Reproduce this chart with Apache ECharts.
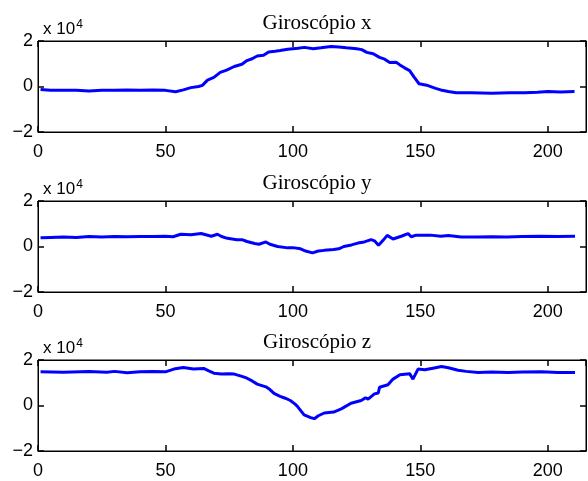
<!DOCTYPE html>
<html>
<head>
<meta charset="utf-8">
<script src="https://cdn.jsdelivr.net/npm/echarts@6/dist/echarts.min.js"></script>
<style>
  html, body { margin: 0; padding: 0; background: #fff; }
  #chart { width: 588px; height: 481px; }
</style>
</head>
<body>
<div id="chart"></div>
<script>
// valores em unidades de 10^4, [amostra, valor]
var giroX = [
  [1,-0.13],[5,-0.17],[10,-0.16],[15,-0.16],[20,-0.2],[25,-0.16],[30,-0.17],[35,-0.15],
  [40,-0.17],[45,-0.15],[50,-0.17],[54,-0.23],[57,-0.15],[60,-0.05],[63,0.0],[64.5,0.05],
  [66.5,0.28],[69,0.4],[71.5,0.62],[74,0.72],[77,0.88],[80,0.98],[82,1.14],[84,1.22],
  [86,1.34],[88.5,1.37],[90.5,1.52],[93,1.55],[95,1.58],[98,1.64],[102,1.68],[104.5,1.72],
  [108,1.66],[111,1.7],[115,1.76],[118,1.74],[121,1.7],[125,1.66],[127,1.62],[129,1.5],
  [131.5,1.44],[134,1.28],[136,1.2],[138,1.05],[140.5,1.07],[142,0.95],[143.8,0.82],
  [145.8,0.7],[147.5,0.42],[149.5,0.12],[153,0.04],[156,-0.08],[158,-0.15],[161,-0.22],
  [164,-0.27],[170,-0.28],[178,-0.3],[185,-0.27],[191,-0.28],[196,-0.25],[200,-0.22],
  [205,-0.24],[210.5,-0.22]
];
var giroY = [
  [1,0.38],[5,0.4],[10,0.42],[15,0.4],[20,0.44],[25,0.42],[30,0.44],[35,0.43],[40,0.44],
  [45,0.44],[50,0.45],[53,0.43],[56,0.54],[60,0.52],[64,0.57],[68,0.45],[70.4,0.54],
  [72,0.44],[74.3,0.36],[78,0.3],[80,0.3],[82,0.22],[85,0.13],[86.7,0.1],[89.4,0.2],
  [91,0.1],[94,0.0],[98,-0.06],[100,-0.05],[103,-0.1],[105,-0.2],[107.7,-0.28],[110,-0.2],
  [112.3,-0.17],[116,-0.13],[118,-0.1],[120,0.0],[123,0.07],[125.5,0.15],[128,0.2],
  [130.7,0.3],[132,0.25],[133.6,0.05],[135.3,0.26],[137,0.49],[139.3,0.33],[142.5,0.45],
  [145.2,0.57],[146.4,0.43],[148.4,0.5],[154,0.5],[158,0.45],[161,0.48],[166,0.42],
  [172,0.42],[178,0.43],[184,0.42],[190,0.44],[197,0.45],[204,0.44],[210.7,0.45]
];
var giroZ = [
  [1,1.48],[10,1.46],[20,1.49],[27,1.46],[30,1.5],[35,1.44],[40,1.48],[45,1.49],[50,1.48],
  [53.3,1.6],[57,1.67],[61,1.6],[65,1.63],[67,1.52],[69,1.42],[72,1.38],[75,1.4],[77,1.38],
  [80,1.28],[82,1.2],[84,1.08],[86,0.94],[89.4,0.82],[91,0.7],[92.6,0.53],[95,0.4],
  [97,0.32],[99,0.22],[101,0.05],[102,-0.07],[104.4,-0.41],[107,-0.53],[108.4,-0.58],
  [110,-0.45],[112.3,-0.33],[116,-0.29],[119,-0.15],[122.8,0.1],[126.8,0.22],[128.5,0.34],
  [129.5,0.28],[132,0.51],[133.5,0.55],[134,0.8],[137.3,0.91],[139.3,1.16],[142,1.35],
  [145.8,1.4],[147.1,1.16],[149.1,1.6],[151.7,1.57],[155,1.64],[158.3,1.71],[161,1.66],
  [164.8,1.55],[168,1.5],[172.7,1.45],[178,1.47],[184.5,1.45],[190,1.47],[197.6,1.48],
  [204,1.45],[210.7,1.45]
];
var titulos = ["Giroscópio x", "Giroscópio y", "Giroscópio z"];
var series_dados = [giroX, giroY, giroZ];
var gridTops = [41, 201, 360];

var chart = echarts.init(document.getElementById("chart"));

var grid = [], xAxis = [], yAxis = [], series = [], title = [];

function tick() {
  return { show: true, inside: true, length: 6, lineStyle: { color: "#000", width: 1.5 } };
}
function linha() {
  return { show: true, onZero: false, lineStyle: { color: "#000", width: 1 } };
}
function fonte(extra) {
  return Object.assign({ fontFamily: "Liberation Sans", fontSize: 18, color: "#000" }, extra);
}

for (var i = 0; i < 3; i++) {
  grid.push({ left: 38, right: 2, top: gridTops[i], height: 91,
    show: true, borderColor: "#000", borderWidth: 1 });
  // eixo de baixo (com rótulos) e de cima (só marcas)
  xAxis.push({ gridIndex: i, type: "value", min: 0, max: 215, interval: 50, position: "bottom",
    axisLine: linha(), splitLine: { show: false }, axisTick: tick(),
    axisLabel: fonte({ margin: 11, showMaxLabel: false }) });
  xAxis.push({ gridIndex: i, type: "value", min: 0, max: 215, interval: 50, position: "top",
    axisLine: linha(), splitLine: { show: false }, axisTick: tick(),
    axisLabel: { show: false } });
  yAxis.push({ gridIndex: i, type: "value", min: -2, max: 2, interval: 2, position: "left",
    axisLine: linha(), splitLine: { show: false }, axisTick: tick(),
    axisLabel: fonte({ margin: 5,
      formatter: function (v) { return String(v).replace("-", "\u2212"); } }) });
  yAxis.push({ gridIndex: i, type: "value", min: -2, max: 2, interval: 2, position: "right",
    axisLine: linha(), splitLine: { show: false }, axisTick: tick(),
    axisLabel: { show: false } });
  series.push({ type: "line", xAxisIndex: 2 * i, yAxisIndex: 2 * i, data: series_dados[i],
    showSymbol: false, lineStyle: { color: "#0000ff", width: 3 }, animation: false });
  title.push({ text: titulos[i], left: 312, textAlign: "center", top: gridTops[i] - 33,
    textStyle: { fontFamily: "Liberation Serif", fontSize: 21, fontWeight: "normal", color: "#000" } });
  title.push({ text: "{a|x 10}{b|4}", left: 38, top: gridTops[i] - 27,
    textStyle: { rich: {
      a: { fontFamily: "Liberation Sans", fontSize: 17, fontWeight: "normal", color: "#000", lineHeight: 20 },
      b: { fontFamily: "Liberation Sans", fontSize: 12, fontWeight: "normal", color: "#000",
           verticalAlign: "top", padding: [0, 0, 0, 1] }
    } } });
}

chart.setOption({
  animation: false,
  title: title,
  grid: grid,
  xAxis: xAxis,
  yAxis: yAxis,
  series: series
});
</script>
</body>
</html>
